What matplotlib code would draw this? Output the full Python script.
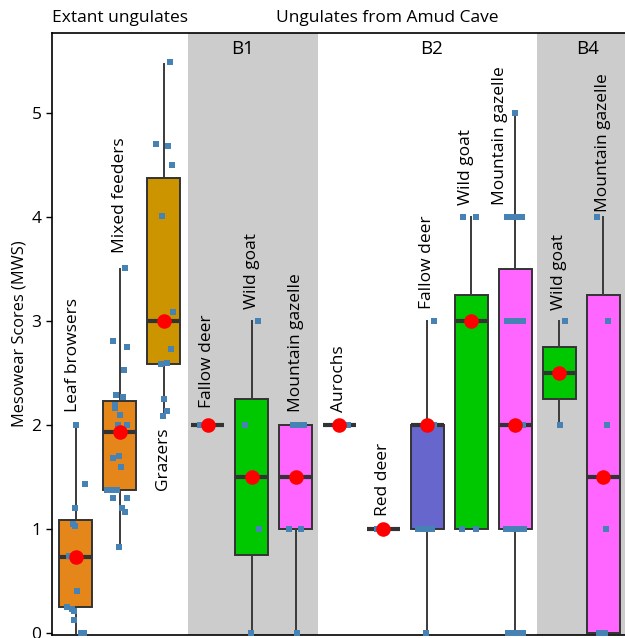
import matplotlib
matplotlib.use("Agg")
import matplotlib.pyplot as plt

plt.rcParams['font.family'] = ['Open Sans', 'DejaVu Sans']

# groups, left to right
labels = ["Leaf browsers", "Mixed feeders", "Grazers",
          "Fallow deer", "Wild goat", "Mountain gazelle",
          "Aurochs", "Red deer", "Fallow deer", "Wild goat", "Mountain gazelle",
          "Wild goat", "Mountain gazelle"]
box_colors = ["#E5861B", "#E5861B", "#CC9500",
              "#E5861B", "#00C800", "#FF66FF",
              "#E5861B", "#E5861B", "#6666CC", "#00C800", "#FF66FF",
              "#00C800", "#FF66FF"]

# box statistics (MWS)
q1 = [0.25, 1.37, 2.59, 2.0, 0.75, 1.0, 2.0, 1.0, 1.0, 1.0, 1.0, 2.25, 0.0]
med = [0.73, 1.93, 3.0, 2.0, 1.5, 1.5, 2.0, 1.0, 2.0, 3.0, 2.0, 2.5, 1.5]
q3 = [1.09, 2.23, 4.38, 2.0, 2.25, 2.0, 2.0, 1.0, 2.0, 3.25, 3.5, 2.75, 3.25]
whis_lo = [0.0, 0.83, 2.09, 2.0, 0.0, 0.0, 2.0, 1.0, 0.0, 1.0, 0.0, 2.0, 0.0]
whis_hi = [2.0, 3.5, 5.47, 2.0, 3.0, 2.0, 2.0, 1.0, 3.0, 4.0, 5.0, 3.0, 4.0]

# individual specimen scores
scores = [
    [2.0, 1.43, 1.2, 1.05, 1.03, 0.74, 0.69, 0.4, 0.25, 0.23, 0.21, 0.12, 0.0, 0.0],
    [3.51, 2.81, 2.75, 2.53, 2.29, 2.27, 2.19, 2.16, 2.10, 2.0, 2.0, 1.70, 1.68,
     1.60, 1.37, 1.37, 1.37, 1.30, 1.30, 1.20, 1.16, 0.83],
    [5.49, 4.70, 4.68, 4.50, 4.01, 3.09, 2.73, 2.60, 2.59, 2.25, 2.13, 2.09],
    [2.0, 2.0],
    [3.0, 2.0, 1.0, 0.0],
    [2.0, 2.0, 2.0, 1.0, 1.0, 0.0],
    [2.0, 2.0],
    [1.0, 1.0],
    [3.0, 2.0, 2.0, 1.0, 1.0, 1.0, 1.0, 0.0],
    [4.0, 4.0, 3.0, 1.0, 1.0],
    [5.0, 4.0, 4.0, 4.0, 4.0, 3.0, 3.0, 3.0, 3.0, 2.0,
     1.0, 1.0, 1.0, 1.0, 1.0, 0.0, 0.0, 0.0, 0.0],
    [3.0, 2.0],
    [4.0, 3.0, 2.0, 1.0, 0.0, 0.0],
]
# horizontal jitter of each point (pixels at this size)
jitter_px = [
    [0, 9, -1, -3, -1, -7, -1, 1, -9, -4, -2, -2, 5, 8],
    [5, -7, 7, 4, -4, 3, -5, -5, 0, -2, 7, -1, -7, 1, -13, -8, -3, -7, 7, 2, 5, -1],
    [6, -8, 4, 8, -2, 9, 7, 3, -3, 0, 3, -1],
    [-8, 2],
    [6, -7, 7, -1],
    [-3, 3, 8, -7, 5, 1],
    [6, 9],
    [-6, -3],
    [7, 7, 4, -9, -4, 0, 5, -1],
    [-8, 5, 0, -9, 5],
    [0, -8, -3, 2, 7, -8, -3, 2, 8, 8, -9, -4, 0, 5, 9, -7, -2, 3, 8],
    [6, 1],
    [-6, 5, 4, 3, -4, 2],
]

# label anchor (MWS) and side: labels above the whisker unless noted
label_y = [2.12, 3.65, 1.98, 2.16, 3.12, 2.12, 2.12, 1.12, 3.12, 4.12, 4.12, 3.11, 4.05]
label_dx = [-0.07, 0.0, -0.02, -0.02, 0.0, 0.0, -0.02, 0.0, 0.0, -0.12, -0.34, 0.0, 0.0]

panels = ["B1", "B2", "B4"]
panel_x = [4.8, 9.09, 12.64]
shade_spans = [(3.56, 6.52), (11.5, 13.6)]

positions = list(range(1, len(labels) + 1))
px_per_unit = 44.0

fig = plt.figure(figsize=(6.25, 6.38), dpi=100)
ax = fig.add_axes([52 / 625, 3 / 638, 573 / 625, 602 / 638])

for lo, hi in shade_spans:
    ax.axvspan(lo, hi, color="#CCCCCC", zorder=0, lw=0)

stats = []
for i in range(len(labels)):
    stats.append(dict(med=med[i], q1=q1[i], q3=q3[i],
                      whislo=whis_lo[i], whishi=whis_hi[i], fliers=[]))

bp = ax.bxp(stats, positions=positions, widths=0.75, patch_artist=True,
            showfliers=False, showcaps=False,
            boxprops=dict(edgecolor="#333333", linewidth=1.4),
            medianprops=dict(color="#333333", linewidth=3),
            whiskerprops=dict(color="#3a3a3a", linewidth=1.4))
for patch, c in zip(bp["boxes"], box_colors):
    patch.set_facecolor(c)
    patch.set_zorder(2)
for line in bp["medians"]:
    line.set_zorder(3)

for i, pos in enumerate(positions):
    xs = [pos + d / px_per_unit for d in jitter_px[i]]
    ax.scatter(xs, scores[i], marker="s", s=20, color="#4682B4", zorder=4, lw=0)
    ax.scatter([pos], [med[i]], s=110, color="#FF0000", zorder=5, lw=0)

for i, pos in enumerate(positions):
    va = "top" if labels[i] == "Grazers" else "bottom"
    ax.text(pos + label_dx[i], label_y[i], labels[i], rotation=90,
            ha="center", va=va, fontsize=12.5, zorder=6)

for name, x in zip(panels, panel_x):
    ax.text(x, 5.62, name, ha="center", va="center", fontsize=13.5)

ax.text(2.0, 1.0 + 15 / 602, "Extant ungulates", transform=ax.get_xaxis_transform(),
        ha="center", va="center", fontsize=12.5)
ax.text(8.09, 1.0 + 15 / 602, "Ungulates from Amud Cave", transform=ax.get_xaxis_transform(),
        ha="center", va="center", fontsize=12.5)

ax.set_xlim(0.455, 13.5)
ax.set_ylim(-0.02, 5.77)
ax.set_yticks([0, 1, 2, 3, 4, 5])
ax.set_xticks([])
ax.tick_params(axis="y", labelsize=12.5, direction="out", length=4, width=1)
ax.set_ylabel("Mesowear Scores (MWS)", fontsize=11.8, labelpad=3)
ax.spines["right"].set_visible(False)
for s in ["left", "top", "bottom"]:
    ax.spines[s].set_linewidth(1.2)
    ax.spines[s].set_color("black")

fig.savefig("out.png", dpi=100)
